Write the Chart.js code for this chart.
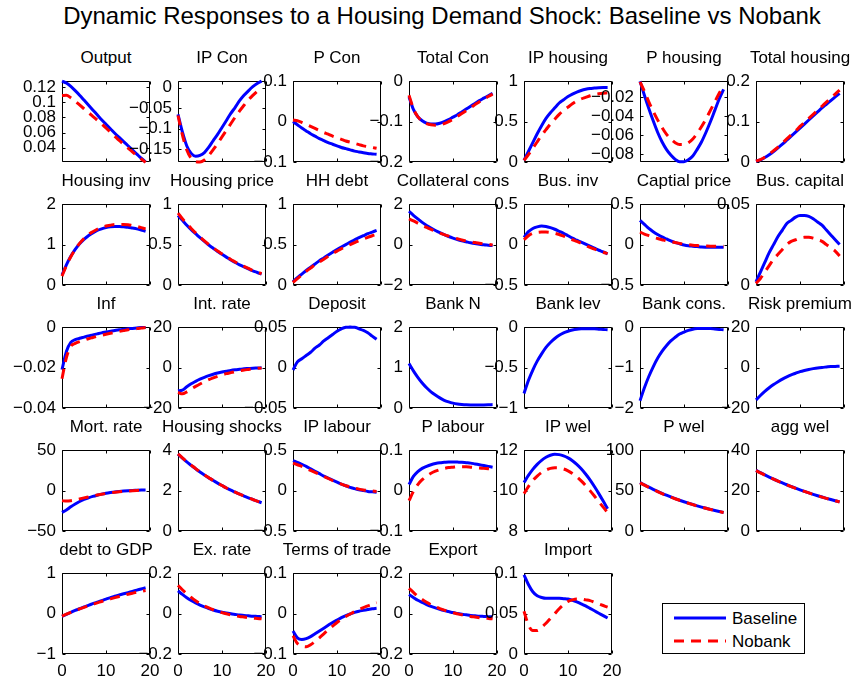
<!DOCTYPE html>
<html>
<head>
<meta charset="utf-8">
<script src="https://cdn.jsdelivr.net/npm/chart.js@4.4.1/dist/chart.umd.min.js"></script>
<style>
  html, body { margin: 0; padding: 0; background: #fff; }
  #fig { position: relative; width: 856px; height: 681px; overflow: hidden;
         font-family: "Liberation Sans", Arial, Helvetica, sans-serif; color: #000; }
  #suptitle { position: absolute; left: 14px; top: 4px; width: 856px; text-align: center;
              font-size: 24px; line-height: 24px; white-space: nowrap; }
  .ptitle { position: absolute; text-align: center; font-size: 17px; line-height: 17px; white-space: nowrap; }
  canvas { position: absolute; }
  #legend { position: absolute; left: 662px; top: 603px; width: 141px; height: 49px;
            border: 1px solid #000; background: #fff; }
  #legend svg { position: absolute; left: 0; top: 0; }
  #legend span { position: absolute; left: 69px; font-size: 17px; line-height: 17px; white-space: nowrap; }
</style>
</head>
<body>
<div id="fig">
  <div id="suptitle">Dynamic Responses to a Housing Demand Shock: Baseline vs Nobank</div>
  <div id="legend">
    <svg width="141" height="49">
      <line x1="11" y1="14" x2="63" y2="14" stroke="#0000ff" stroke-width="3"/>
      <line x1="11" y1="37" x2="63" y2="37" stroke="#ff0000" stroke-width="3" stroke-dasharray="10 7"/>
    </svg>
    <span style="top:6px">Baseline</span>
    <span style="top:29px">Nobank</span>
  </div>
</div>
<script>
// Quarters after the shock
const periods = [0, 1, 2, 3, 4, 5, 6, 7, 8, 9, 10, 11, 12, 13, 14, 15, 16, 17, 18, 19];

const panelTitles = ['Output', 'IP Con', 'P Con', 'Total Con', 'IP housing', 'P housing', 'Total housing',
  'Housing inv', 'Housing price', 'HH debt', 'Collateral cons', 'Bus. inv', 'Captial price', 'Bus. capital',
  'Inf', 'Int. rate', 'Deposit', 'Bank N', 'Bank lev', 'Bank cons.', 'Risk premium',
  'Mort. rate', 'Housing shocks', 'IP labour', 'P labour', 'IP wel', 'P wel', 'agg wel',
  'debt to GDP', 'Ex. rate', 'Terms of trade', 'Export', 'Import'];

// Baseline (with banks) and Nobank impulse responses
const outputBase = [0.128, 0.1255, 0.121, 0.1155, 0.1095, 0.103, 0.0965, 0.090, 0.0835, 0.077, 0.071, 0.065, 0.059, 0.0535, 0.048, 0.0425, 0.037, 0.0315, 0.026, 0.021];
const outputNobank = [0.109, 0.1095, 0.106, 0.1015, 0.0965, 0.0915, 0.0865, 0.0815, 0.0765, 0.0715, 0.066, 0.0605, 0.055, 0.0495, 0.0445, 0.0395, 0.0345, 0.0295, 0.025, 0.0205];
const ipConBase = [-0.065, -0.108, -0.142, -0.160, -0.167, -0.165, -0.158, -0.145, -0.129, -0.114, -0.097, -0.080, -0.063, -0.048, -0.032, -0.019, -0.008, 0.002, 0.010, 0.0154];
const ipConNobank = [-0.068, -0.115, -0.152, -0.172, -0.180, -0.181, -0.176, -0.165, -0.151, -0.136, -0.120, -0.104, -0.088, -0.072, -0.057, -0.043, -0.030, -0.019, -0.009, -0.001];
const pConBase = [0, -0.008, -0.016, -0.023, -0.030, -0.036, -0.042, -0.047, -0.052, -0.056, -0.060, -0.064, -0.067, -0.070, -0.073, -0.075, -0.077, -0.079, -0.080, -0.081];
const pConNobank = [0.004, 0.002, -0.002, -0.007, -0.012, -0.017, -0.022, -0.027, -0.031, -0.036, -0.040, -0.044, -0.048, -0.051, -0.054, -0.057, -0.060, -0.062, -0.064, -0.066];
const totalConBase = [-0.039, -0.070, -0.088, -0.098, -0.104, -0.106, -0.106, -0.104, -0.100, -0.095, -0.089, -0.083, -0.076, -0.069, -0.062, -0.055, -0.048, -0.042, -0.036, -0.030];
const totalConNobank = [-0.035, -0.068, -0.088, -0.099, -0.105, -0.108, -0.109, -0.108, -0.105, -0.100, -0.094, -0.087, -0.080, -0.073, -0.066, -0.058, -0.051, -0.044, -0.038, -0.032];
const ipHousingBase = [0.02, 0.13, 0.24, 0.35, 0.45, 0.54, 0.61, 0.67, 0.73, 0.77, 0.81, 0.84, 0.865, 0.885, 0.90, 0.91, 0.915, 0.92, 0.922, 0.922];
const ipHousingNobank = [0.02, 0.09, 0.17, 0.25, 0.33, 0.40, 0.47, 0.53, 0.59, 0.64, 0.68, 0.72, 0.755, 0.78, 0.80, 0.82, 0.835, 0.845, 0.852, 0.856];
const pHousingBase = [-0.0033, -0.018, -0.032, -0.045, -0.057, -0.067, -0.075, -0.081, -0.0855, -0.088, -0.088, -0.086, -0.082, -0.075, -0.067, -0.057, -0.046, -0.034, -0.022, -0.012];
const pHousingNobank = [-0.004, -0.014, -0.025, -0.035, -0.044, -0.052, -0.059, -0.064, -0.068, -0.070, -0.070, -0.068, -0.064, -0.058, -0.051, -0.043, -0.034, -0.025, -0.016, -0.008];
const totalHousingBase = [0.002, 0.005, 0.011, 0.018, 0.026, 0.035, 0.044, 0.054, 0.064, 0.074, 0.084, 0.094, 0.104, 0.114, 0.124, 0.134, 0.143, 0.152, 0.161, 0.170];
const totalHousingNobank = [0.002, 0.006, 0.012, 0.020, 0.028, 0.037, 0.047, 0.057, 0.067, 0.077, 0.088, 0.098, 0.108, 0.118, 0.128, 0.138, 0.148, 0.158, 0.168, 0.178];

const housingInvBase = [0.25, 0.50, 0.71, 0.88, 1.02, 1.13, 1.22, 1.29, 1.35, 1.39, 1.42, 1.44, 1.45, 1.45, 1.44, 1.43, 1.41, 1.39, 1.36, 1.33];
const housingInvNobank = [0.22, 0.48, 0.70, 0.88, 1.03, 1.15, 1.25, 1.32, 1.38, 1.43, 1.46, 1.48, 1.50, 1.50, 1.50, 1.49, 1.47, 1.45, 1.42, 1.39];
const housingPriceBase = [0.86, 0.80, 0.74, 0.685, 0.635, 0.585, 0.54, 0.495, 0.455, 0.415, 0.38, 0.345, 0.31, 0.28, 0.25, 0.225, 0.20, 0.175, 0.155, 0.135];
const housingPriceNobank = [0.89, 0.82, 0.76, 0.70, 0.645, 0.595, 0.545, 0.50, 0.46, 0.42, 0.385, 0.35, 0.315, 0.285, 0.255, 0.23, 0.205, 0.18, 0.16, 0.14];
const hhDebtBase = [0.04, 0.09, 0.135, 0.18, 0.22, 0.26, 0.30, 0.335, 0.37, 0.405, 0.44, 0.47, 0.50, 0.53, 0.56, 0.585, 0.61, 0.635, 0.655, 0.675];
const hhDebtNobank = [0.03, 0.08, 0.125, 0.17, 0.21, 0.25, 0.285, 0.32, 0.355, 0.39, 0.42, 0.45, 0.475, 0.50, 0.525, 0.55, 0.57, 0.59, 0.61, 0.625];
const collConsBase = [1.65, 1.45, 1.27, 1.10, 0.95, 0.82, 0.70, 0.59, 0.49, 0.40, 0.32, 0.25, 0.19, 0.14, 0.09, 0.05, 0.02, -0.01, -0.03, -0.05];
const collConsNobank = [1.27, 1.17, 1.06, 0.95, 0.85, 0.75, 0.66, 0.57, 0.49, 0.42, 0.35, 0.29, 0.23, 0.18, 0.14, 0.10, 0.07, 0.04, 0.01, -0.02];
const busInvBase = [0.09, 0.16, 0.20, 0.22, 0.23, 0.225, 0.21, 0.19, 0.165, 0.14, 0.11, 0.08, 0.055, 0.03, 0.005, -0.02, -0.045, -0.07, -0.09, -0.115];
const busInvNobank = [0.06, 0.11, 0.14, 0.15, 0.155, 0.155, 0.15, 0.14, 0.125, 0.105, 0.085, 0.06, 0.04, 0.015, -0.01, -0.035, -0.055, -0.075, -0.095, -0.11];
const capPriceBase = [0.30, 0.25, 0.20, 0.16, 0.125, 0.095, 0.07, 0.045, 0.025, 0.01, -0.005, -0.015, -0.02, -0.025, -0.03, -0.032, -0.033, -0.033, -0.033, -0.032];
const capPriceNobank = [0.155, 0.13, 0.11, 0.09, 0.075, 0.06, 0.045, 0.035, 0.025, 0.015, 0.005, -0.002, -0.008, -0.012, -0.015, -0.018, -0.02, -0.02, -0.02, -0.02];
const busCapitalBase = [0.002, 0.008, 0.014, 0.020, 0.025, 0.030, 0.034, 0.038, 0.040, 0.042, 0.043, 0.043, 0.0425, 0.041, 0.039, 0.037, 0.034, 0.031, 0.028, 0.025];
const busCapitalNobank = [0.001, 0.004, 0.008, 0.012, 0.016, 0.019, 0.022, 0.025, 0.027, 0.028, 0.029, 0.0295, 0.0295, 0.029, 0.028, 0.027, 0.025, 0.023, 0.021, 0.018];

const infBase = [-0.021, -0.012, -0.0075, -0.0062, -0.0055, -0.0049, -0.0043, -0.0038, -0.0033, -0.0028, -0.0024, -0.002, -0.0016, -0.0013, -0.001, -0.0008, -0.0006, -0.0004, -0.0002, -0.0001];
const infNobank = [-0.0255, -0.015, -0.0095, -0.008, -0.0071, -0.0064, -0.0057, -0.0051, -0.0045, -0.004, -0.0035, -0.003, -0.0025, -0.0021, -0.0017, -0.0013, -0.001, -0.0007, -0.0004, -0.0002];
const intRateBase = [-11.5, -11.2, -9.5, -8.0, -6.8, -5.7, -4.8, -4.0, -3.3, -2.7, -2.2, -1.8, -1.4, -1.1, -0.85, -0.6, -0.45, -0.3, -0.2, -0.1];
const intRateNobank = [-12.3, -13.0, -12.0, -10.6, -9.3, -8.1, -7.0, -6.0, -5.1, -4.3, -3.6, -3.0, -2.5, -2.0, -1.6, -1.2, -0.9, -0.6, -0.4, -0.2];
const depositBase = [-0.003, 0.007, 0.011, 0.015, 0.019, 0.024, 0.028, 0.033, 0.037, 0.041, 0.045, 0.048, 0.050, 0.0503, 0.050, 0.048, 0.046, 0.043, 0.039, 0.035];
const bankNBase = [1.10, 0.92, 0.76, 0.62, 0.50, 0.40, 0.32, 0.25, 0.19, 0.15, 0.12, 0.10, 0.088, 0.08, 0.076, 0.074, 0.074, 0.076, 0.08, 0.085];
const bankLevBase = [-0.82, -0.66, -0.53, -0.42, -0.33, -0.25, -0.19, -0.14, -0.10, -0.07, -0.05, -0.035, -0.025, -0.02, -0.018, -0.018, -0.02, -0.024, -0.028, -0.032];
const bankConsBase = [-1.82, -1.50, -1.22, -0.98, -0.77, -0.60, -0.46, -0.34, -0.25, -0.17, -0.12, -0.08, -0.05, -0.035, -0.03, -0.03, -0.035, -0.045, -0.055, -0.065];
const riskPremBase = [-16, -13.8, -11.8, -10.0, -8.4, -7.0, -5.7, -4.6, -3.6, -2.8, -2.0, -1.4, -0.9, -0.5, -0.15, 0.1, 0.3, 0.5, 0.6, 0.7];

const mortRateBase = [-27, -24, -20, -16.5, -13.5, -11, -9, -7.2, -5.7, -4.4, -3.3, -2.4, -1.6, -1.0, -0.5, -0.1, 0.2, 0.4, 0.6, 0.7];
const mortRateNobank = [-12.5, -13, -12.5, -11.5, -10.3, -9.0, -7.8, -6.6, -5.5, -4.5, -3.6, -2.8, -2.1, -1.5, -1.0, -0.5, -0.1, 0.2, 0.4, 0.6];
const housingShockBase = [3.80, 3.61, 3.42, 3.25, 3.08, 2.92, 2.77, 2.63, 2.50, 2.37, 2.25, 2.13, 2.02, 1.92, 1.82, 1.73, 1.64, 1.56, 1.48, 1.40];
const housingShockNobank = [3.82, 3.62, 3.43, 3.26, 3.09, 2.93, 2.78, 2.64, 2.50, 2.37, 2.25, 2.13, 2.02, 1.92, 1.82, 1.73, 1.64, 1.56, 1.48, 1.40];
const ipLabourBase = [0.37, 0.35, 0.325, 0.30, 0.27, 0.24, 0.21, 0.18, 0.155, 0.13, 0.105, 0.08, 0.06, 0.04, 0.025, 0.01, 0.0, -0.01, -0.015, -0.02];
const ipLabourNobank = [0.34, 0.32, 0.30, 0.275, 0.25, 0.225, 0.20, 0.175, 0.15, 0.125, 0.10, 0.08, 0.06, 0.045, 0.03, 0.018, 0.008, 0.0, -0.005, -0.01];
const pLabourBase = [0.015, 0.035, 0.047, 0.055, 0.060, 0.064, 0.067, 0.069, 0.070, 0.071, 0.071, 0.0705, 0.070, 0.069, 0.068, 0.066, 0.064, 0.062, 0.060, 0.058];
const pLabourNobank = [-0.025, -0.002, 0.015, 0.027, 0.036, 0.043, 0.048, 0.052, 0.055, 0.057, 0.058, 0.059, 0.059, 0.059, 0.058, 0.057, 0.056, 0.055, 0.054, 0.053];
const ipWelBase = [10.4, 10.75, 11.05, 11.3, 11.5, 11.65, 11.75, 11.8, 11.78, 11.72, 11.62, 11.48, 11.3, 11.08, 10.82, 10.53, 10.2, 9.85, 9.48, 9.1];
const ipWelNobank = [9.85, 10.2, 10.5, 10.72, 10.9, 11.02, 11.1, 11.13, 11.12, 11.07, 10.98, 10.85, 10.68, 10.48, 10.25, 10.0, 9.73, 9.45, 9.18, 8.92];
const pWelBase = [60, 57.05, 54.24, 51.57, 49.03, 46.62, 44.33, 42.15, 40.07, 38.10, 36.23, 34.44, 32.75, 31.14, 29.61, 28.15, 26.77, 25.45, 24.20, 23.0];
const pWelNobank = [59.6, 56.7, 53.9, 51.3, 48.8, 46.4, 44.1, 42.0, 39.9, 38.0, 36.1, 34.3, 32.6, 31.0, 29.5, 28.1, 26.7, 25.4, 24.1, 22.9];
const aggWelBase = [30, 28.86, 27.77, 26.72, 25.71, 24.73, 23.80, 22.89, 22.03, 21.19, 20.39, 19.62, 18.87, 18.16, 17.47, 16.81, 16.17, 15.56, 14.97, 14.4];
const aggWelNobank = [29.9, 28.77, 27.69, 26.65, 25.64, 24.67, 23.74, 22.84, 21.98, 21.15, 20.35, 19.58, 18.84, 18.13, 17.44, 16.78, 16.15, 15.54, 14.95, 14.38];

const debtGdpBase = [-0.07, -0.02, 0.03, 0.08, 0.12, 0.165, 0.205, 0.245, 0.285, 0.32, 0.36, 0.395, 0.43, 0.46, 0.49, 0.52, 0.55, 0.58, 0.61, 0.64];
const debtGdpNobank = [-0.06, -0.015, 0.03, 0.075, 0.115, 0.155, 0.195, 0.23, 0.265, 0.30, 0.335, 0.365, 0.395, 0.425, 0.455, 0.48, 0.505, 0.53, 0.55, 0.57];
const exRateBase = [0.113, 0.095, 0.079, 0.065, 0.053, 0.042, 0.033, 0.025, 0.018, 0.012, 0.007, 0.003, -0.001, -0.004, -0.007, -0.009, -0.011, -0.013, -0.014, -0.015];
const exRateNobank = [0.14, 0.118, 0.098, 0.08, 0.064, 0.05, 0.038, 0.028, 0.019, 0.011, 0.005, -0.001, -0.006, -0.01, -0.014, -0.017, -0.02, -0.022, -0.024, -0.026];
const totBase = [-0.043, -0.060, -0.064, -0.062, -0.057, -0.050, -0.043, -0.036, -0.029, -0.022, -0.016, -0.010, -0.005, -0.001, 0.003, 0.006, 0.008, 0.010, 0.012, 0.013];
const totNobank = [-0.055, -0.074, -0.080, -0.082, -0.077, -0.069, -0.060, -0.050, -0.040, -0.031, -0.022, -0.014, -0.007, -0.001, 0.005, 0.010, 0.015, 0.019, 0.023, 0.027];
const exportBase = [0.094, 0.080, 0.066, 0.055, 0.045, 0.036, 0.028, 0.021, 0.015, 0.010, 0.005, 0.001, -0.003, -0.006, -0.009, -0.011, -0.013, -0.014, -0.015, -0.016];
const exportNobank = [0.125, 0.105, 0.086, 0.070, 0.056, 0.044, 0.034, 0.025, 0.017, 0.010, 0.004, -0.001, -0.006, -0.010, -0.014, -0.017, -0.020, -0.022, -0.024, -0.026];
const importBase = [0.098, 0.086, 0.077, 0.072, 0.070, 0.069, 0.069, 0.069, 0.069, 0.0685, 0.068, 0.0665, 0.0645, 0.062, 0.0595, 0.0565, 0.0535, 0.0505, 0.0475, 0.0445];
const importNobank = [0.053, 0.036, 0.029, 0.029, 0.033, 0.038, 0.044, 0.050, 0.056, 0.061, 0.065, 0.067, 0.068, 0.068, 0.067, 0.066, 0.064, 0.062, 0.060, 0.058];

const baselineSeries = [outputBase, ipConBase, pConBase, totalConBase, ipHousingBase, pHousingBase, totalHousingBase,
  housingInvBase, housingPriceBase, hhDebtBase, collConsBase, busInvBase, capPriceBase, busCapitalBase,
  infBase, intRateBase, depositBase, bankNBase, bankLevBase, bankConsBase, riskPremBase,
  mortRateBase, housingShockBase, ipLabourBase, pLabourBase, ipWelBase, pWelBase, aggWelBase,
  debtGdpBase, exRateBase, totBase, exportBase, importBase];
// The bank-sector variables do not exist in the Nobank model
const nobankSeries = [outputNobank, ipConNobank, pConNobank, totalConNobank, ipHousingNobank, pHousingNobank, totalHousingNobank,
  housingInvNobank, housingPriceNobank, hhDebtNobank, collConsNobank, busInvNobank, capPriceNobank, busCapitalNobank,
  infNobank, intRateNobank, null, null, null, null, null,
  mortRateNobank, housingShockNobank, ipLabourNobank, pLabourNobank, ipWelNobank, pWelNobank, aggWelNobank,
  debtGdpNobank, exRateNobank, totNobank, exportNobank, importNobank];

// Vertical axis limits and tick values of each panel
const yLimits = [[0.021, 0.128], [-0.181, 0.0154], [-0.1, 0.1], [-0.2, 0], [0, 1], [-0.0883, -0.0033], [0, 0.2],
  [0, 2], [0, 1], [0, 1], [-2, 2], [-0.5, 0.5], [-0.5, 0.5], [0, 0.05],
  [-0.04, 0], [-20, 20], [-0.05, 0.05], [0, 2], [-1, 0], [-2, 0], [-20, 20],
  [-50, 50], [0, 4], [-0.5, 0.5], [-0.1, 0.1], [8, 12], [0, 100], [0, 40],
  [-1, 1], [-0.2, 0.2], [-0.1, 0.1], [-0.2, 0.2], [0, 0.1]];
const yTickValues = [[0.04, 0.06, 0.08, 0.1, 0.12], [-0.15, -0.1, -0.05, 0], [-0.1, 0, 0.1], [-0.2, -0.1, 0], [0, 0.5, 1], [-0.08, -0.06, -0.04, -0.02], [0, 0.1, 0.2],
  [0, 1, 2], [0, 0.5, 1], [0, 0.5, 1], [-2, 0, 2], [-0.5, 0, 0.5], [-0.5, 0, 0.5], [0, 0.05],
  [-0.04, -0.02, 0], [-20, 0, 20], [-0.05, 0, 0.05], [0, 1, 2], [-1, -0.5, 0], [-2, -1, 0], [-20, 0, 20],
  [-50, 0, 50], [0, 2, 4], [-0.5, 0, 0.5], [-0.1, 0, 0.1], [8, 10, 12], [0, 50, 100], [0, 20, 40],
  [-1, 0, 1], [-0.2, 0, 0.2], [-0.1, 0, 0.1], [-0.2, 0, 0.2], [0, 0.05, 0.1]];
const xTickValues = [0, 10, 20];

// ---- layout of the 5 x 7 grid of axes ----
const colLefts = [62, 178, 293, 409, 524, 640, 756];
const rowTops = [77, 200, 323, 446, 569];
const AX_W = 88, AX_H = 85;
const PAD_L = 62, PAD_R = 22, PAD_T = 12, PAD_B = 32;
const FONT_FAMILY = "'Liberation Sans', Arial, Helvetica, sans-serif";
const BLUE = '#0000ff', RED = '#ff0000';

const fmt = v => {
  const s = String(Math.abs(+v.toFixed(6)));
  return v < 0 ? '\u2212' + s : s;
};

// Box round the axes with short inward tick marks on all four sides
const boxPlugin = {
  id: 'boxedAxes',
  beforeDatasetsDraw(chart) {
    const { ctx, chartArea: a, scales: { x, y } } = chart;
    const L = Math.round(a.left) + 0.5, R = Math.round(a.right) - 0.5;
    const T = Math.round(a.top) + 0.5, B = Math.round(a.bottom) - 0.5;
    const tl = 3;
    ctx.save();
    ctx.strokeStyle = '#000';
    ctx.lineWidth = 1;
    ctx.beginPath();
    ctx.rect(L, T, R - L, B - T);
    x.ticks.forEach(t => {
      const px = Math.round(x.getPixelForValue(t.value)) + 0.5;
      ctx.moveTo(px, B); ctx.lineTo(px, B - tl);
      ctx.moveTo(px, T); ctx.lineTo(px, T + tl);
    });
    y.ticks.forEach(t => {
      const py = Math.round(y.getPixelForValue(t.value)) + 0.5;
      ctx.moveTo(L, py); ctx.lineTo(L + tl, py);
      ctx.moveTo(R, py); ctx.lineTo(R - tl, py);
    });
    ctx.stroke();
    ctx.restore();
  }
};

const fig = document.getElementById('fig');

panelTitles.forEach((title, k) => {
  const r = Math.floor(k / 7), c = k % 7;
  const axL = colLefts[c], axT = rowTops[r];
  const bottomRow = r === 4;

  const t = document.createElement('div');
  t.className = 'ptitle';
  t.textContent = title;
  t.style.left = (axL - 40) + 'px';
  t.style.width = (AX_W + 80) + 'px';
  t.style.top = (axT - 28) + 'px';
  fig.appendChild(t);

  const cv = document.createElement('canvas');
  const W = AX_W + PAD_L + PAD_R, H = AX_H + PAD_T + PAD_B;
  cv.width = W; cv.height = H;
  cv.style.width = W + 'px'; cv.style.height = H + 'px';
  cv.style.left = (axL - PAD_L) + 'px';
  cv.style.top = (axT - PAD_T) + 'px';
  fig.appendChild(cv);

  const datasets = [];
  const nb = nobankSeries[k];
  if (nb) {
    datasets.push({
      label: 'Nobank', data: periods.map((p, i) => ({ x: p, y: nb[i] })),
      borderColor: RED, borderWidth: 3, borderDash: [10, 7], pointRadius: 0,
      fill: false, cubicInterpolationMode: 'monotone', clip: 3
    });
  }
  const bs = baselineSeries[k];
  datasets.push({
    label: 'Baseline', data: periods.map((p, i) => ({ x: p, y: bs[i] })),
    borderColor: BLUE, borderWidth: 3, pointRadius: 0,
    fill: false, cubicInterpolationMode: 'monotone', clip: 3
  });

  const font = { family: FONT_FAMILY, size: 17 };
  new Chart(cv, {
    type: 'line',
    data: { datasets },
    plugins: [boxPlugin],
    options: {
      responsive: false, animation: false, devicePixelRatio: 1,
      layout: { padding: { top: PAD_T, right: PAD_R, bottom: 0, left: 0 } },
      plugins: { legend: { display: false }, tooltip: { enabled: false }, title: { display: false } },
      scales: {
        x: {
          type: 'linear', min: 0, max: 20,
          afterBuildTicks: s => { s.ticks = xTickValues.map(v => ({ value: v })); },
          afterFit: s => { s.height = PAD_B; },
          grid: { display: false, drawTicks: false },
          border: { display: false },
          ticks: { display: bottomRow, padding: 7, font, color: '#000', maxRotation: 0, autoSkip: false,
                   callback: v => fmt(v) }
        },
        y: {
          type: 'linear', min: yLimits[k][0], max: yLimits[k][1],
          afterBuildTicks: s => { s.ticks = yTickValues[k].map(v => ({ value: v })); },
          afterFit: s => { s.width = PAD_L; },
          grid: { display: false, drawTicks: false },
          border: { display: false },
          ticks: { padding: 6, font, color: '#000', autoSkip: false, callback: v => fmt(v) }
        }
      }
    }
  });
});
</script>
</body>
</html>
